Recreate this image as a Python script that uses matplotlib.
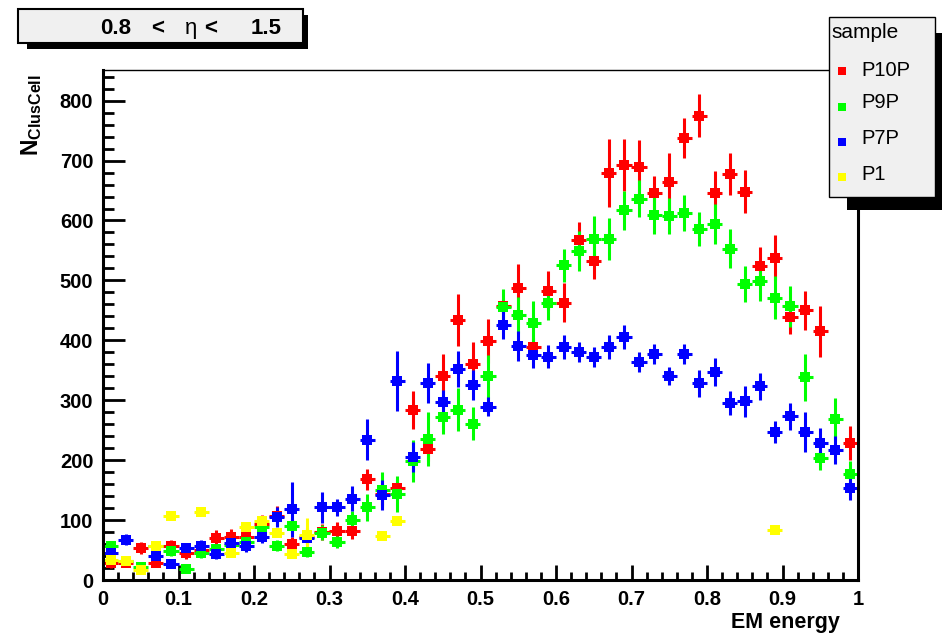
import numpy as np
import matplotlib.pyplot as plt
from matplotlib.patches import Rectangle
from matplotlib.ticker import MultipleLocator, FuncFormatter

plt.rcParams['font.family'] = ['Liberation Sans', 'DejaVu Sans']
plt.rcParams['mathtext.fontset'] = 'custom'
plt.rcParams['mathtext.rm'] = 'Liberation Sans:bold'
plt.rcParams['mathtext.bf'] = 'Liberation Sans:bold'

nan = np.nan

# 50 bins of width 0.02 in EM energy fraction
bin_centers = np.arange(0.01, 1.0, 0.02)
half_width = 0.01

p10p = [28, 29, 53, 29, 56, 45, 50, 70, 71, 72,
        94, 107, 60, 72, 80, 82, 82, 168, 144, 153,
        284, 219, 340, 434, 360, 399, 457, 487, 389, 483,
        463, 567, 533, 679, 693, 689, 646, 664, 738, 775,
        646, 677, 648, 524, 538, 439, 450, 415, nan, 229]
p10p_err = [8, 8, 10, 8, 10, 10, 10, 14, 14, 14,
            15, 16, 12, 14, 14, 14, 14, 17, 18, 15,
            32, 20, 37, 43, 37, 37, 12, 40, 15, 33,
            33, 30, 30, 57, 43, 45, 28, 48, 33, 36,
            36, 35, 36, 31, 38, 28, 33, 43, nan, 28]

p9p = [57, 31, 21, 57, 48, 19, 45, 51, 58, 63,
       88, 57, 90, 47, 79, 64, 100, 121, 151, 144,
       198, 236, 272, 284, 261, 340, 455, 443, 429, 462,
       525, 549, 569, 569, 617, 636, 610, 608, 612, 586,
       594, 553, 494, 499, 471, 457, 338, 203, 268, 177]
p9p_err = [8, 7, 6, 8, 8, 6, 8, 8, 9, 9,
           10, 9, 12, 9, 12, 10, 15, 23, 30, 30,
           35, 45, 28, 36, 28, 36, 30, 30, 37, 28,
           28, 33, 39, 35, 33, 31, 33, 30, 30, 29,
           33, 33, 30, 33, 36, 34, 39, 20, 35, 22]

p7p = [45, 67, nan, 40, 27, 53, 57, 43, 61, 56,
       71, 105, 118, 70, 121, 121, 136, 234, 142, 332,
       206, 329, 297, 352, 325, 289, 426, 391, 376, 373,
       389, 381, 372, 389, 406, 364, 377, 340, 377, 328,
       347, 296, 298, 323, 247, 273, 247, 229, 217, 154]
p7p_err = [8, 9, nan, 8, 7, 9, 9, 8, 9, 9,
           10, 16, 46, 10, 26, 15, 21, 34, 25, 50,
           25, 33, 20, 30, 25, 16, 23, 25, 22, 20,
           20, 17, 17, 20, 20, 17, 17, 15, 17, 23,
           23, 20, 26, 23, 18, 23, 34, 24, 23, 20]

p1 = [34, 32, 17, 56, 107, nan, 114, nan, 45, 89,
      98, 78, 44, 75, nan, nan, nan, nan, 73, 99,
      nan, nan, nan, nan, nan, nan, nan, nan, nan, nan,
      nan, nan, nan, nan, nan, nan, nan, nan, nan, nan,
      nan, nan, nan, nan, 84, nan, nan, nan, nan, nan]
p1_err = [0, 0, 0, 0, 0, nan, 0, nan, 0, 0,
          0, 0, 0, 28, nan, nan, nan, nan, 0, 0,
          nan, nan, nan, nan, nan, nan, nan, nan, nan, nan,
          nan, nan, nan, nan, nan, nan, nan, nan, nan, nan,
          nan, nan, nan, nan, 0, nan, nan, nan, nan, nan]

samples = ['P10P', 'P9P', 'P7P', 'P1']
colors = ['#ff0000', '#00ff00', '#0000ff', '#ffff00']
values = [p10p, p9p, p7p, p1]
errors = [p10p_err, p9p_err, p7p_err, p1_err]

# pieces of the eta range label, their centre positions (px) and weights
title_parts = ['0.8', '<', 'η', '<', '1.5']
title_x = [116, 158, 191, 211, 266]
title_weight = ['bold', 'bold', 'normal', 'bold', 'bold']

W, H = 942, 637
fig = plt.figure(figsize=(W / 100, H / 100), dpi=100)
ax = fig.add_axes([103 / W, 1 - 580 / H, 755 / W, (580 - 69.5) / H])


def fx(px):
    return px / W


def fy(py):
    return 1 - py / H


for vals, errs, col in zip(values, errors, colors):
    ax.errorbar(bin_centers, vals, yerr=errs, xerr=half_width, fmt='s',
                color=col, ecolor=col, markersize=6.8, elinewidth=2.2,
                capsize=0, markeredgewidth=0)

ax.set_xlim(0, 1)
ax.set_ylim(0, 852)

ax.xaxis.set_major_locator(MultipleLocator(0.1))
ax.xaxis.set_minor_locator(MultipleLocator(0.02))
ax.yaxis.set_major_locator(MultipleLocator(100))
ax.yaxis.set_minor_locator(MultipleLocator(20))
ax.xaxis.set_major_formatter(FuncFormatter(lambda v, p: '%g' % round(v, 2)))

ax.tick_params(axis='both', which='both', direction='in', top=False,
               right=False, width=2, labelsize=14.5)
ax.tick_params(axis='x', which='major', length=11, pad=7.5)
ax.tick_params(axis='x', which='minor', length=5.5)
ax.tick_params(axis='y', which='major', length=16, pad=7)
ax.tick_params(axis='y', which='minor', length=8)
for lab in ax.get_xticklabels() + ax.get_yticklabels():
    lab.set_fontweight('bold')

for side in ['left', 'bottom', 'right']:
    ax.spines[side].set_linewidth(2.2)
ax.spines['top'].set_linewidth(1)

# axis titles
fig.text(fx(840), fy(628), 'EM energy', ha='right', va='baseline',
         fontsize=15.5, fontweight='bold')
fig.text(fx(32), fy(74), r'$\mathbf{N}_{\mathbf{ClusCell}}$', rotation=90,
         ha='center', va='top', fontsize=16.5)

# title box with shadow
fig.patches.append(Rectangle((fx(27), fy(49)), fx(308) - fx(27), fy(15) - fy(49),
                             transform=fig.transFigure, facecolor='black',
                             edgecolor='none'))
fig.patches.append(Rectangle((fx(18), fy(43)), fx(303) - fx(18), fy(9) - fy(43),
                             transform=fig.transFigure, facecolor='#f0f0f0',
                             edgecolor='black', linewidth=1.5))
for part, px, wt in zip(title_parts, title_x, title_weight):
    fig.text(fx(px), fy(34), part, ha='center', va='baseline',
             fontsize=16, fontweight=wt)

# legend box with shadow
fig.patches.append(Rectangle((fx(847), fy(210)), fx(950) - fx(847), fy(33) - fy(210),
                             transform=fig.transFigure, facecolor='black',
                             edgecolor='none'))
fig.patches.append(Rectangle((fx(829), fy(197)), fx(935) - fx(829), fy(17) - fy(197),
                             transform=fig.transFigure, facecolor='#f0f0f0',
                             edgecolor='black', linewidth=1))
fig.text(fx(831), fy(33), 'sample', ha='left', va='center', fontsize=15)
marker_y = [71, 107, 142, 177]
text_y = [70, 102, 138, 175]
for name, col, my, ty in zip(samples, colors, marker_y, text_y):
    fig.patches.append(Rectangle((fx(838), fy(my + 4)), fx(8), fx(8) * W / H,
                                 transform=fig.transFigure, facecolor=col,
                                 edgecolor='none'))
    fig.text(fx(861), fy(ty), name, ha='left', va='center', fontsize=14.5)

fig.savefig('out.png', dpi=100)
